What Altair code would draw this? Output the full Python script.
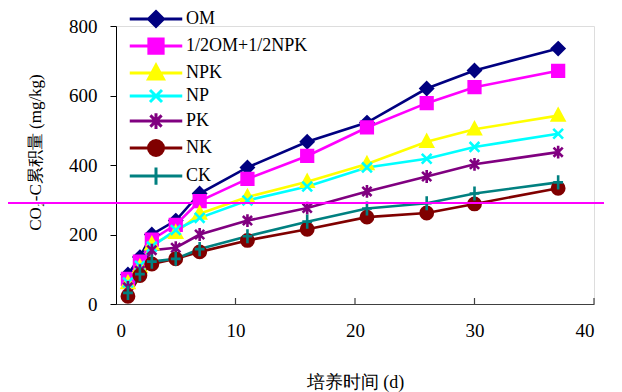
import altair as alt
import pandas as pd

days = [1, 2, 3, 5, 7, 11, 16, 21, 26, 30, 37]
series = ["OM", "1/2OM+1/2NPK", "NPK", "NP", "PK", "NK", "CK"]
om = [85, 135, 200, 240, 318, 393, 467, 522, 620, 672, 735]
half = [72, 122, 185, 228, 296, 360, 426, 508, 578, 624, 671]
npk = [60, 106, 172, 205, 260, 308, 352, 403, 467, 503, 542]
np_ = [62, 110, 165, 213, 248, 298, 338, 393, 418, 452, 490]
pk = [48, 96, 155, 162, 200, 240, 276, 324, 367, 402, 437]
nk = [22, 82, 115, 130, 150, 183, 215, 250, 262, 288, 333]
ck = [32, 86, 122, 130, 158, 195, 237, 275, 290, 318, 350]
colors = ["#000080", "#FF00FF", "#FFFF00", "#00FFFF", "#800080", "#800000", "#008080"]
x_ticks = [0, 10, 20, 30, 40]
y_ticks = [0, 200, 400, 600, 800]
artifact_y = [291]

values = [om, half, npk, np_, pk, nk, ck]
rows = []
for s, vals in zip(series, values):
    for d, v in zip(days, vals):
        rows.append({"day": d, "value": v, "series": s})
df = pd.DataFrame(rows)

plot_shapes = [
    "M0,-1L1,0L0,1L-1,0Z",
    "M-0.95,-0.95H0.95V0.95H-0.95Z",
    "M0,-1.05L1,0.8L-1,0.8Z",
    "M-0.8,-0.8L0.8,0.8M-0.8,0.8L0.8,-0.8",
    "M-0.75,-0.75L0.75,0.75M-0.75,0.75L0.75,-0.75M0,-1.05V1.05",
    "circle",
    "M-0.8,0H0.8M0,-1.15V1.15",
]
L = "M-3.5,0H3.5"
legend_shapes = [
    L + "M0,-1L1,0L0,1L-1,0Z",
    L + "M-0.95,-0.95H0.95V0.95H-0.95Z",
    L + "M0,-1.05L1,0.8L-1,0.8Z",
    L + "M-0.8,-0.8L0.8,0.8M-0.8,0.8L0.8,-0.8",
    L + "M-0.75,-0.75L0.75,0.75M-0.75,0.75L0.75,-0.75M0,-1.05V1.05",
    L + "M1,0A1,1,0,1,1,-1,0A1,1,0,1,1,1,0Z",
    L + "M0,-1.15V1.15",
]

FONT = "Liberation Serif"
cscale = alt.Scale(domain=series, range=colors)

xenc = alt.X("day:Q", scale=alt.Scale(domain=[0, 40]),
             axis=alt.Axis(values=x_ticks, ticks=False, grid=False, domainColor="#404040",
                           domainWidth=1.2, labelPadding=17, labelFontSize=19, labelFont=FONT,
                           labelColor="black", title="培养时间 (d)", titleFont=FONT,
                           titleFontSize=18, titleFontWeight="normal", titleColor="black",
                           titleY=78, titleBaseline="middle"))
yenc = alt.Y("value:Q", scale=alt.Scale(domain=[0, 800]),
             axis=alt.Axis(values=y_ticks, grid=False, domainColor="black", tickColor="black",
                           tickSize=6, labelPadding=13, labelFontSize=19, labelFont=FONT,
                           labelColor="black", title="CO₂-C累积量 (mg/kg)", titleFont=FONT,
                           titleFontSize=17, titleFontWeight="normal", titleColor="black",
                           titleX=-81, titleY=126, titleBaseline="middle"))

base = alt.Chart(df)

lines = base.mark_line(strokeWidth=2.6).encode(
    x=xenc, y=yenc,
    color=alt.Color("series:N", scale=cscale, legend=None),
    detail="series:N",
)

points = base.mark_point(filled=True, size=150, strokeWidth=2.6, opacity=1).encode(
    x="day:Q", y="value:Q",
    color=alt.Color("series:N", scale=cscale, legend=None),
    stroke=alt.Stroke("series:N", scale=cscale, legend=None),
    shape=alt.Shape("series:N", scale=alt.Scale(domain=series, range=plot_shapes), legend=None),
)

leg = alt.Legend(title=None, orient="none", legendX=31, legendY=-16, symbolSize=225,
                 symbolStrokeWidth=3, labelFont=FONT, labelFontSize=18, labelColor="black",
                 labelOffset=21, rowPadding=-1, padding=0, symbolOpacity=1)
legend_layer = base.mark_point(filled=True, size=225, strokeWidth=3, opacity=1).encode(
    x="day:Q", y="value:Q",
    color=alt.Color("series:N", scale=cscale, legend=leg),
    stroke=alt.Stroke("series:N", scale=cscale, legend=leg),
    shape=alt.Shape("series:N", scale=alt.Scale(domain=series, range=legend_shapes), legend=leg),
).transform_filter("datum.day < 0")

tick_df = pd.DataFrame({"t": x_ticks[1:]})
xticks = alt.Chart(tick_df).mark_rule(color="#404040", strokeWidth=1.2).encode(
    x="t:Q", y=alt.value(278), y2=alt.value(272))

art = alt.Chart(pd.DataFrame({"v": artifact_y})).mark_rule(color="#FF00FF", strokeWidth=2).encode(
    y="v:Q", x=alt.value(-110), x2=alt.value(500))

chart = alt.layer(lines, points, xticks, legend_layer, art).resolve_scale(
    color="independent", stroke="independent", shape="independent"
).properties(
    width=478, height=278, autosize="none",
    padding={"left": 108, "top": 18, "right": 10, "bottom": 88},
).configure_view(stroke=None).configure(background="white")

chart.save("out.html", embed_options={"renderer": "svg", "actions": False})
